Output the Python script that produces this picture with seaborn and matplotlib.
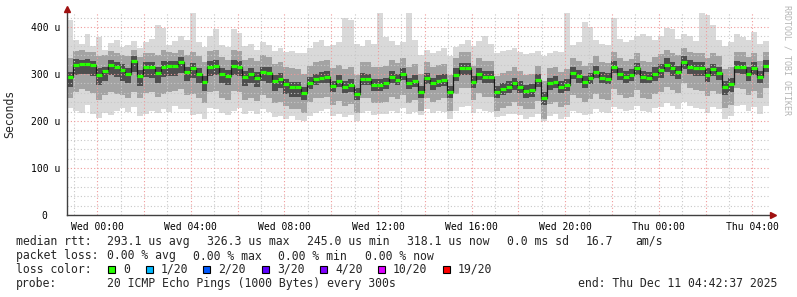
import numpy as np
import pandas as pd
import matplotlib
matplotlib.use("Agg")
import matplotlib.pyplot as plt
import seaborn as sns
from matplotlib.patches import Rectangle

# ---------------- data (microseconds), 15-minute steps, 120 steps ----------------
median = [294,319,321,321,319,298,306,319,316,309,301,328,296,316,314,303,316,317,317,326,
          305,312,301,284,316,318,301,296,318,316,294,300,292,305,302,285,290,278,272,272,
          259,282,289,292,294,274,285,273,276,257,290,289,277,277,280,294,288,300,280,286,
          262,291,280,285,288,262,299,312,312,284,301,294,294,262,269,273,280,273,265,267,
          287,248,280,284,273,277,303,296,284,291,305,292,290,315,301,294,298,312,294,292,
          301,308,320,312,305,325,316,312,312,299,310,303,272,278,316,314,301,312,294,318]

outer_hi = [415,372,365,385,360,378,352,366,372,358,362,370,355,368,375,405,398,362,370,380,
            372,430,368,358,380,395,362,358,395,388,360,365,352,368,362,350,355,348,350,345,
            345,355,368,372,360,362,368,420,415,365,360,372,365,430,378,370,362,368,430,372,
            340,352,345,350,355,338,358,365,372,360,370,382,365,345,350,352,355,348,342,345,
            350,338,345,350,348,430,362,368,410,400,372,365,362,419,375,368,372,380,385,382,
            372,380,398,395,375,385,382,370,430,425,404,372,360,368,385,378,372,390,365,370]
outer_lo = [228,222,218,235,215,206,218,212,222,228,220,230,210,215,222,218,226,220,232,225,
            225,212,215,205,228,225,218,212,222,228,215,222,214,226,220,208,210,205,210,202,
            200,210,218,222,225,210,215,208,212,200,218,222,212,214,216,222,218,228,215,220,
            212,225,218,222,220,205,222,230,232,218,225,222,220,208,210,214,216,212,205,208,
            215,200,210,214,205,208,222,218,212,216,225,220,218,230,225,222,224,232,222,220,
            228,230,238,232,225,240,232,228,226,218,230,225,205,210,232,235,222,230,215,232]
mid_hi = [335,350,352,348,346,338,340,350,345,340,338,352,336,345,344,340,352,348,345,352,
          340,348,338,325,350,352,336,330,352,350,330,335,328,340,336,322,326,316,312,310,
          300,318,325,328,330,312,320,310,314,298,325,325,315,316,318,330,324,334,316,322,
          300,325,315,320,322,298,334,346,346,318,335,328,328,296,302,306,314,306,298,300,
          318,285,312,316,305,310,334,328,318,324,338,326,324,346,334,328,332,344,328,326,
          336,342,352,345,340,356,348,345,345,334,344,338,310,315,348,346,336,345,328,348]
mid_lo = [250,262,268,265,260,245,255,262,258,255,250,262,248,260,262,252,258,262,265,268,
          255,258,250,238,262,265,250,245,265,262,245,250,242,255,250,238,240,232,226,225,
          218,240,248,250,252,235,242,232,236,218,248,248,238,238,240,252,246,256,238,244,
          222,250,240,245,248,222,258,270,270,244,260,252,252,222,228,232,240,232,225,226,
          242,205,236,240,230,234,256,250,240,246,258,246,244,268,255,248,252,266,248,246,
          258,262,272,266,260,280,270,266,265,254,264,258,228,234,270,268,256,264,250,270]
core_hi = [305,332,330,333,328,312,316,330,326,322,312,338,308,326,325,316,328,328,328,336,
           316,324,312,296,328,330,312,308,330,328,306,312,304,316,314,298,302,290,284,284,
           272,294,300,304,306,286,298,285,290,270,302,301,290,290,292,306,300,312,292,298,
           275,302,292,298,300,274,312,324,324,296,312,306,306,274,280,285,292,285,276,279,
           300,262,292,296,286,290,315,308,296,303,318,304,302,327,313,306,310,324,306,304,
           314,322,334,326,318,338,330,326,325,312,322,316,286,292,328,326,314,325,306,330]
core_lo = [272,298,300,300,296,276,286,298,294,286,280,304,274,294,292,282,294,296,296,302,
           285,292,280,264,296,298,282,276,298,296,274,280,272,285,282,265,270,258,252,252,
           244,268,276,280,282,262,272,260,262,244,276,276,264,264,268,282,276,288,268,272,
           248,278,266,272,275,248,286,298,298,270,288,280,280,248,255,260,266,260,250,252,
           272,235,266,270,260,264,290,282,270,278,292,280,278,302,288,282,286,298,282,280,
           286,292,304,296,290,310,300,296,296,284,296,288,256,262,302,300,286,298,280,304]

x_tick_hours = [0, 4, 8, 12, 16, 20, 24, 28]
x_tick_labels = ["Wed 00:00", "Wed 04:00", "Wed 08:00", "Wed 12:00",
                 "Wed 16:00", "Wed 20:00", "Thu 00:00", "Thu 04:00"]
y_tick_values = [0, 100, 200, 300, 400]
y_tick_labels = ["0  ", "100 u", "200 u", "300 u", "400 u"]

loss_labels = ["0", "1/20", "2/20", "3/20", "4/20", "10/20", "19/20"]
loss_colors = ["#26ff00", "#00b8ff", "#0059ff", "#5e00ff", "#7e00ff", "#dd00ff", "#ff0000"]

legend_rtt = ["median rtt:", "293.1 us avg", "326.3 us max", "245.0 us min",
              "318.1 us now", "0.0 ms sd", "16.7", "am/s"]
legend_loss = ["packet loss:", "0.00 % avg", "0.00 % max", "0.00 % min", "0.00 % now"]
probe_text = ["probe:", "20 ICMP Echo Pings (1000 Bytes) every 300s",
              "end: Thu Dec 11 04:42:37 2025"]

# ---------------- figure ----------------
sns.set_style("white")
plt.rcParams["font.family"] = ["DejaVu Sans Mono", "DejaVu Sans"]

W, H = 797, 297
fig = plt.figure(figsize=(W / 100, H / 100), dpi=100)
ax = fig.add_axes([67 / W, 1 - 215 / H, 702 / W, 202 / H])

start = -(1 + 17 / 60 + 23 / 3600)   # Tue 22:42:37 relative to Wed 00:00
n = len(median)
t_edges = start + np.arange(n + 1) * 0.25
end = t_edges[-1]

def ext(a):
    return np.append(a, a[-1])

layers = [(outer_lo, outer_hi, "#d9d9d9"),
          (mid_lo, mid_hi, "#a3a3a3"),
          (core_lo, core_hi, "#4e4e4e")]
for lo, hi, c in layers:
    ax.fill_between(t_edges, ext(lo), ext(hi), step="post", color=c, lw=0, zorder=1)

df = pd.DataFrame({"t": t_edges, "median": ext(median)})
sns.lineplot(data=df, x="t", y="median", drawstyle="steps-post", color="#1a1a1a",
             lw=0.9, ax=ax, zorder=4)
ax.hlines(median, t_edges[:-1], t_edges[1:], colors="#26ff00", lw=2.3, zorder=5)

ax.set_xlim(start, end)
ax.set_ylim(0, 430)

ax.set_xticks(np.arange(0, 29, 2))
ax.set_xticklabels([x_tick_labels[x_tick_hours.index(h)] if h in x_tick_hours else ""
                    for h in range(0, 29, 2)])
ax.set_xticks(np.arange(-1, 29, 1), minor=True)
ax.set_yticks(y_tick_values)
ax.set_yticklabels(y_tick_labels)
ax.set_yticks(np.arange(0, 430, 20), minor=True)

ax.grid(which="minor", color="#c8c8c8", ls=(0, (1, 2)), lw=0.8, zorder=2)
ax.grid(which="major", color="#f09a9a", ls=(0, (1, 2)), lw=0.8, zorder=2)
ax.set_axisbelow(False)

ax.tick_params(axis="both", which="both", length=0, labelsize=7, colors="#000000")
ax.tick_params(axis="x", pad=5)
ax.tick_params(axis="y", pad=5)
for lab in ax.get_yticklabels() + ax.get_xticklabels():
    lab.set_fontfamily(["DejaVu Sans Mono", "DejaVu Sans"])

for s in ["top", "right"]:
    ax.spines[s].set_visible(False)
for s in ["left", "bottom"]:
    ax.spines[s].set_color("#404040")
    ax.spines[s].set_linewidth(1.0)
    ax.spines[s].set_zorder(6)

ax.set_xlabel("")
ax.set_ylabel("")
ax.plot([start], [438], marker="^", color="#a01010", ms=4.5, clip_on=False, zorder=7)
ax.plot([end + 0.17], [0], marker=">", color="#a01010", ms=4.5, clip_on=False, zorder=7)

def fx(px):
    return px / W

def fy(py):
    return 1 - py / H

fs = 8.3
fig.text(fx(10), fy(114), "Seconds", rotation=90, va="center", ha="center", fontsize=fs)
fig.text(fx(787), fy(60), "RRDTOOL / TOBI OETIKER", rotation=270, va="center",
         ha="center", fontsize=6, color="#b4b4b4")

rtt_x = [16, 107, 207, 307, 407, 507, 586, 635]
for x, s in zip(rtt_x, legend_rtt):
    fig.text(fx(x), fy(241.5), s, va="center", ha="left", fontsize=fs)
loss_x = [16, 107, 193, 278, 365]
for x, s in zip(loss_x, legend_loss):
    fig.text(fx(x), fy(256), s, va="center", ha="left", fontsize=fs)
fig.text(fx(16), fy(269.5), "loss color:", va="center", ha="left", fontsize=fs)
box_x = [108, 146, 203, 262, 320, 378, 443]
for x, lab, c in zip(box_x, loss_labels, loss_colors):
    fig.patches.append(Rectangle((fx(x), fy(273)), 7 / W, 7 / H, transform=fig.transFigure,
                                 facecolor=c, edgecolor="#000000", lw=0.8))
    fig.text(fx(x + 15), fy(269.5), lab, va="center", ha="left", fontsize=fs)
probe_x = [16, 107, 578]
for x, s in zip(probe_x, probe_text):
    fig.text(fx(x), fy(283.5), s, va="center", ha="left", fontsize=fs)

fig.savefig("out.png", dpi=100, facecolor="white")
